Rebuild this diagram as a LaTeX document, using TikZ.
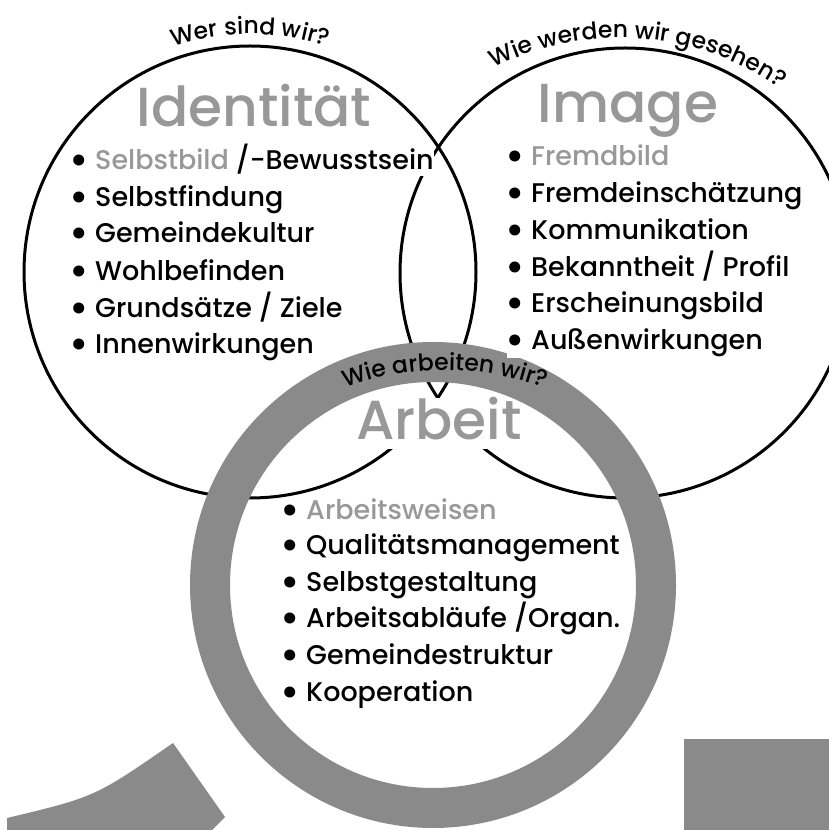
\documentclass[tikz,border=0pt]{standalone}
\usepackage{fontspec}
\setmainfont{Poppins}[UprightFont={* Medium}]
\usetikzlibrary{decorations.text}
\definecolor{ringgray}{RGB}{138,138,138}
\definecolor{titlegray}{RGB}{152,152,152}
\newcommand{\bul}{\makebox[24pt][l]{\hspace{-2pt}\raisebox{-4.5pt}{\fontsize{42}{42}\selectfont\textbullet}}}
\begin{document}
\begin{tikzpicture}[x=1pt,y=1pt,
  circ/.style={circle, draw=black, line width=3pt, inner sep=0pt},
  ringstyle/.style={circle, draw=ringgray, line width=40pt, inner sep=0pt},
  title/.style={font=\fontsize{55}{55}\selectfont, text=titlegray, anchor=base, inner sep=0pt},
  item/.style={font=\fontsize{27}{27}\selectfont, anchor=base west, fill=white, inner xsep=0pt, inner ysep=1pt},
  arctext/.style={decorate, decoration={text along path, text align=center, text={#1}}}
]
\useasboundingbox (0,0) rectangle (829,830);
% circles
\node[circ, minimum size=452pt] (ident) at (250,558) {};
\node[circ, minimum size=450pt] (img) at (625,557) {};
% Arbeit title with white backing (hides the circle lines)
\node[title, fill=white, inner xsep=6pt, text height=42pt, text depth=9pt] (tArb) at (439,390) {Arbeit};
% ring
\node[ringstyle, minimum size=446pt] (ring) at (433,245) {};
% bottom shapes
\fill[ringgray] (684,0) rectangle (829,91);
\fill[ringgray] (7,0) -- (7,12) .. controls (95,33) .. (173,87) -- (225,13) -- (212,0) -- cycle;
% titles
\node[title] (tIdent) at (254,703) {Identität};
\node[title] (tImg) at (628,707) {Image};
% curved questions
\path[arctext={|\fontsize{23.5}{23.5}\selectfont|Wer sind wir?}] ([shift={(120:238)}]250,558) arc (120:60:238);
\path[arctext={|\fontsize{23.5}{23.5}\selectfont|Wie werden wir gesehen?}] ([shift={(126:280)}]620,512) arc (126:46:280);
\path[arctext={|\fontsize{23.5}{23.5}\selectfont|Wie arbeiten wir?}] ([shift={(120:285)}]445,175) arc (120:60:285);
% left list
\node[item] (l1) at (71,660) {\bul\textcolor{titlegray}{Selbstbild} /-Bewusstsein};
\node[item] (l2) at (71,623) {\bul Selbstfindung};
\node[item] (l3) at (71,587) {\bul Gemeindekultur};
\node[item] (l4) at (71,549) {\bul Wohlbefinden};
\node[item] (l5) at (71,512) {\bul Grundsätze / Ziele};
\node[item] (l6) at (71,476) {\bul Innenwirkungen};
% right list
\node[item] (r1) at (507,664) {\bul\textcolor{titlegray}{Fremdbild}};
\node[item] (r2) at (507,627) {\bul Fremdeinschätzung};
\node[item] (r3) at (507,590) {\bul Kommunikation};
\node[item] (r4) at (507,553) {\bul Bekanntheit / Profil};
\node[item] (r5) at (507,517) {\bul Erscheinungsbild};
\node[item] (r6) at (507,480) {\bul Außenwirkungen};
% bottom list
\node[item] (a1) at (282,310) {\bul\textcolor{titlegray}{Arbeitsweisen}};
\node[item] (a2) at (282,275) {\bul Qualitätsmanagement};
\node[item] (a3) at (282,238) {\bul Selbstgestaltung};
\node[item] (a4) at (282,202) {\bul Arbeitsabläufe /Organ.};
\node[item] (a5) at (282,165) {\bul Gemeindestruktur};
\node[item] (a6) at (282,128) {\bul Kooperation};
\end{tikzpicture}
\end{document}
